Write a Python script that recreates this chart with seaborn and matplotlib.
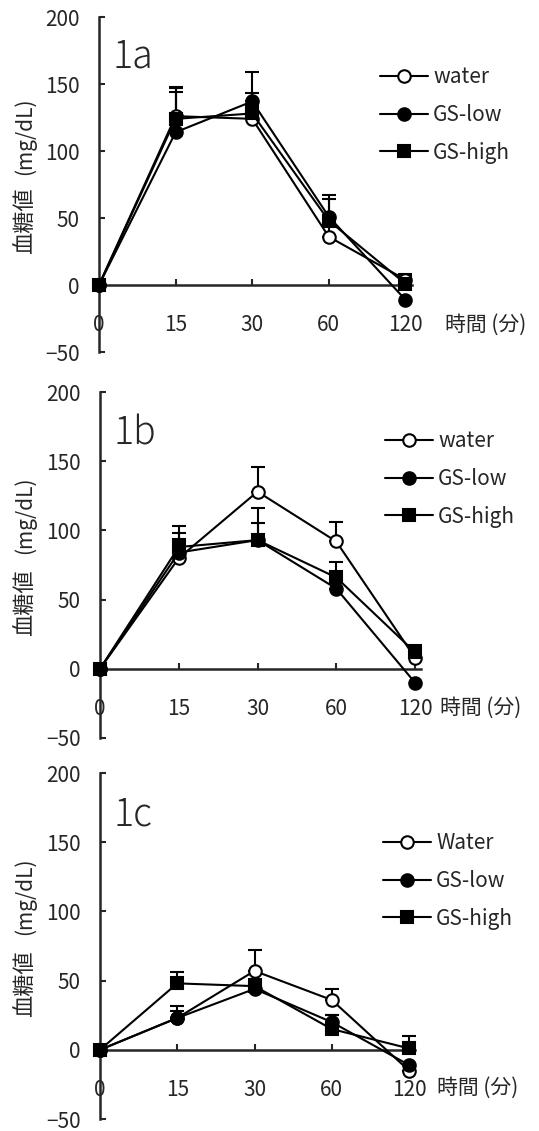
# blood glucose curves, three panels (1a / 1b / 1c)
import numpy as np
import pandas as pd
import matplotlib
matplotlib.use('Agg')
import matplotlib.pyplot as plt
import matplotlib.transforms as mtransforms
import seaborn as sb

times = ['0', '15', '30', '60', '120']

# 1a
a_water = [0, 126, 124, 36, 4]
a_low = [0, 114, 137, 51, -11]
a_high = [0, 124, 128, 48, 1]
a_water_err = [0, 22, 10, 8, 4]
a_low_err = [0, 33, 22, 16, 0]
a_high_err = [0, 20, 15, 16, 6]

# 1b
b_water = [0, 80, 128, 92, 8]
b_low = [0, 84, 93, 58, -10]
b_high = [0, 88, 93, 66, 12]
b_water_err = [0, 18, 18, 14, 7]
b_low_err = [0, 10, 12, 8, 0]
b_high_err = [0, 15, 23, 11, 5]

# 1c
c_water = [0, 23, 57, 36, -15]
c_low = [0, 23, 44, 20, -11]
c_high = [0, 48, 46, 15, 1]
c_water_err = [0, 5, 15, 8, 4]
c_low_err = [0, 9, 5, 5, 0]
c_high_err = [0, 8, 5, 10, 9]

names_ab = ['water', 'GS-low', 'GS-high']
names_c = ['Water', 'GS-low', 'GS-high']

sb.set_style('ticks')
plt.rcParams['font.family'] = ['Noto Sans CJK JP', 'DejaVu Sans']

W, H = 539, 1131
fig = plt.figure(figsize=(W / 100, H / 100), dpi=100)

# layout in pixels: left, top, bottom, px per category, legend corner, xlabel pos
panels = [
    dict(tag='1a', vals=[a_water, a_low, a_high], errs=[a_water_err, a_low_err, a_high_err],
         names=names_ab, left=99, top=17, bottom=352, step=76.6, leg=(380, 66), xlab=(445, 325)),
    dict(tag='1b', vals=[b_water, b_low, b_high], errs=[b_water_err, b_low_err, b_high_err],
         names=names_ab, left=100, top=392, bottom=738, step=78.75, leg=(385, 430), xlab=(440, 708)),
    dict(tag='1c', vals=[c_water, c_low, c_high], errs=[c_water_err, c_low_err, c_high_err],
         names=names_c, left=100, top=773, bottom=1119, step=77.25, leg=(383, 832), xlab=(437, 1088)),
]

marker_kw = [
    dict(marker='o', markerfacecolor='white'),
    dict(marker='o', markerfacecolor='black'),
    dict(marker='s', markerfacecolor='black'),
]

xmax = 4.08
pos = np.arange(len(times))

for p in panels:
    width = p['step'] * xmax
    ax = fig.add_axes([p['left'] / W, 1 - p['bottom'] / H, width / W, (p['bottom'] - p['top']) / H])

    handles = []
    for k, (v, e, name) in enumerate(zip(p['vals'], p['errs'], p['names'])):
        df = pd.DataFrame({'pos': pos, 'value': v})
        sb.lineplot(data=df, x='pos', y='value', ax=ax, color='black', lw=1.5,
                    markersize=9, markeredgecolor='black', markeredgewidth=1.5,
                    clip_on=False, zorder=3 + k, legend=False, **marker_kw[k])
        handles.append(ax.lines[-1])
        e = np.array(e)
        m = e > 0
        ax.errorbar(pos[m], np.array(v)[m], yerr=[np.zeros(m.sum()), e[m]], fmt='none',
                    ecolor='black', elinewidth=1.5, capsize=5, capthick=1.5, zorder=2, clip_on=False)

    ax.set_xlim(0, xmax)
    ax.set_ylim(-50, 200)
    ax.set_yticks([-50, 0, 50, 100, 150, 200])
    ax.set_xticks(pos)
    ax.set_xticklabels(times)
    ax.set_xlabel('')
    ax.set_ylabel('')
    sb.despine(ax=ax)
    ax.spines['bottom'].set_position(('data', 0))
    ax.spines['left'].set_linewidth(1.8)
    ax.spines['bottom'].set_linewidth(1.8)
    ax.tick_params(axis='both', direction='in', length=4, width=1.5, labelsize=15)
    ax.tick_params(axis='x', pad=21)
    ax.tick_params(axis='y', pad=14)

    ax.text(0.17, 170, p['tag'], fontsize=27, fontweight='light', ha='left', va='center')

    trans = mtransforms.blended_transform_factory(fig.transFigure, ax.transData)
    ax.text(25 / W, 48, '血糖値', transform=trans, rotation=90, ha='center', va='center', fontsize=16)
    ax.text(25 / W, 111, '(mg/dL)', transform=trans, rotation=90, ha='center', va='center', fontsize=15)

    fig.text(p['xlab'][0] / W, 1 - p['xlab'][1] / H, '時間 (分)', fontsize=15, ha='left', va='center')

    ax.legend(handles, p['names'], loc='upper left',
              bbox_to_anchor=(p['leg'][0] / W, 1 - p['leg'][1] / H), bbox_transform=fig.transFigure,
              frameon=False, fontsize=15, handlelength=2.3, handletextpad=0.25,
              labelspacing=0.76, borderpad=0, borderaxespad=0)

fig.savefig('out.png', dpi=100)
